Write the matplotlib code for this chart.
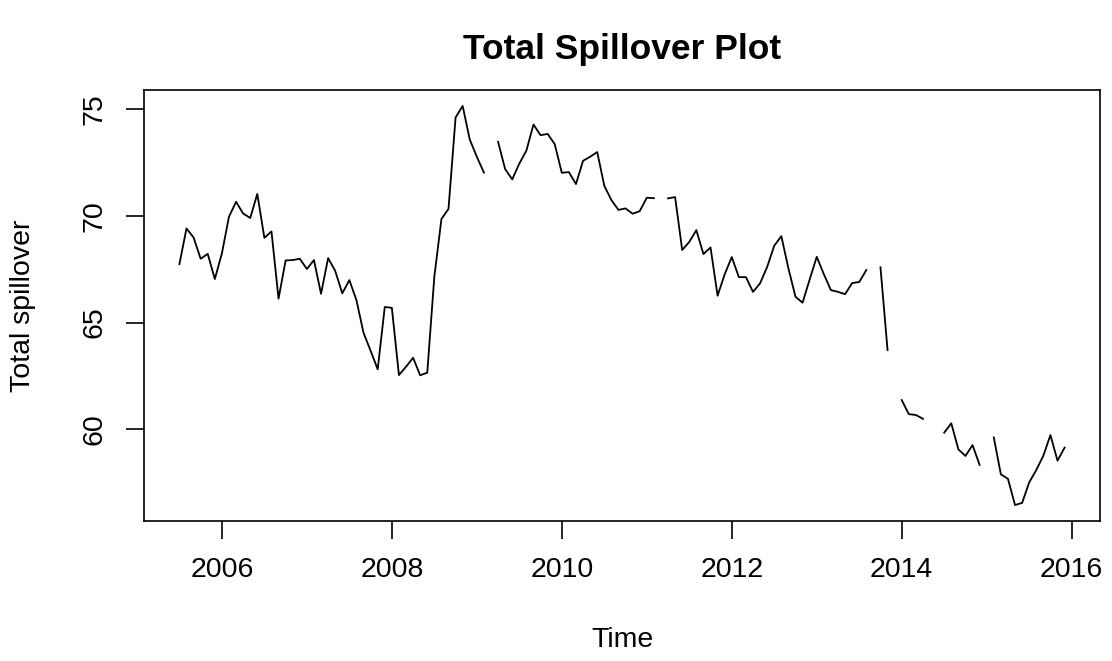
import numpy as np
import matplotlib
matplotlib.use("Agg")
from matplotlib import pyplot as plt

plt.rcParams['font.family'] = ['Liberation Sans', 'DejaVu Sans']

# monthly series, July 2005 - December 2015 (nan = missing month)
start_year = 2005.5
spillover = [
    67.74, 69.41, 68.99, 67.99, 68.22, 67.04,
    68.24, 69.96, 70.66, 70.11, 69.90, 71.03,
    68.97, 69.27, 66.12, 67.91, 67.93, 67.99,
    67.51, 67.93, 66.35, 68.02, 67.42, 66.37,
    66.99, 66.05, 64.52, 63.68, 62.81, 65.73,
    65.69, 62.54, 62.93, 63.35, 62.53, 62.65,
    67.15, 69.85, 70.33, 74.61, 75.15, 73.58,
    72.77, 72.03, np.nan, 73.47, 72.19, 71.71,
    72.45, 73.06, 74.28, 73.78, 73.84, 73.36,
    72.02, 72.05, 71.49, 72.58, 72.77, 72.99,
    71.41, 70.74, 70.28, 70.35, 70.10, 70.22,
    70.85, 70.83, np.nan, 70.82, 70.88, 68.40,
    68.78, 69.33, 68.21, 68.52, 66.26, 67.26,
    68.07, 67.13, 67.13, 66.44, 66.84, 67.61,
    68.60, 69.05, 67.54, 66.21, 65.93, 67.02,
    68.08, 67.27, 66.52, 66.44, 66.33, 66.85,
    66.90, 67.46, np.nan, 67.59, 63.71, np.nan,
    61.37, 60.71, 60.67, 60.49, np.nan, np.nan,
    59.84, 60.28, 59.06, 58.75, 59.26, 58.33,
    np.nan, 59.62, 57.89, 57.68, 56.45, 56.55,
    57.51, 58.09, 58.76, 59.73, 58.53, 59.14,
]
x_ticks = [2006, 2008, 2010, 2012, 2014, 2016]
y_ticks = [60, 65, 70, 75]

t = start_year + np.arange(len(spillover)) / 12

fig = plt.figure(figsize=(11.12, 6.61), dpi=100)
ax = fig.add_axes([144 / 1112, 1 - 521 / 661, 956 / 1112, 431 / 661])

ax.plot(t, spillover, color="black", lw=1.3)
ax.margins(x=0.04, y=0.04)

ax.set_xticks(x_ticks)
ax.set_yticks(y_ticks)
ax.tick_params(direction="out", length=13, width=1.2, pad=13, labelsize=20.5)
for lab in ax.get_yticklabels():
    lab.set_rotation(90)
    lab.set_va("center")
for s in ax.spines.values():
    s.set_linewidth(1.2)

ax.set_xlabel("Time", fontsize=20.5)
ax.xaxis.set_label_coords(0.5, -0.276)
ax.xaxis.label.set_va("center")
ax.set_ylabel("Total spillover", fontsize=20.5)
ax.yaxis.set_label_coords(-0.127, 0.5)
ax.yaxis.label.set_va("center")

ax.text(0.5, 1 + 41 / 431, "Total Spillover Plot", transform=ax.transAxes,
        ha="center", va="center", fontsize=25.5, fontweight="bold")

fig.savefig("out.png", dpi=100)
